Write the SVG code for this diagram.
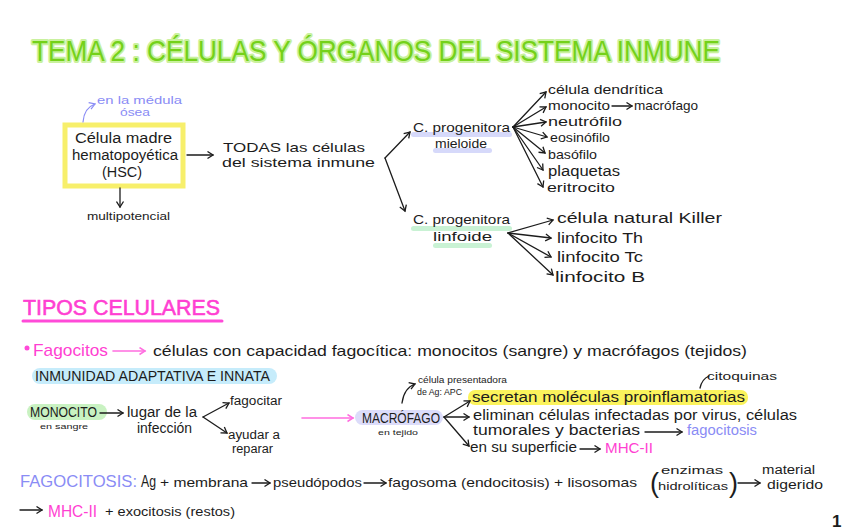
<svg xmlns="http://www.w3.org/2000/svg" width="848" height="530" viewBox="0 0 848 530">
<defs>
<style>
text{font-family:"Liberation Sans",Arial,sans-serif;fill:#1c1c1c}
.k{font-size:13px}
.m{font-size:14px}
.s{font-size:9px}
.pk{fill:#ff3fd2}
.bl{fill:#8a8cf5}
.ln{fill:none;stroke:#1c1c1c;stroke-width:1.3;stroke-linecap:round}
.lp{fill:none;stroke:#ff6ee0;stroke-width:1.6;stroke-linecap:round}
.lb{fill:none;stroke:#8a8cf5;stroke-width:1.2;stroke-linecap:round}
.hl{stroke:none}
</style>
<marker id="ah" markerWidth="9" markerHeight="9" refX="7" refY="4.5" orient="auto" markerUnits="userSpaceOnUse"><path d="M1.5,1 L7,4.5 L1.5,8" fill="none" stroke="#1c1c1c" stroke-width="1.3"/></marker>
<marker id="ahp" markerWidth="9" markerHeight="9" refX="7" refY="4.5" orient="auto" markerUnits="userSpaceOnUse"><path d="M1.5,1 L7,4.5 L1.5,8" fill="none" stroke="#ff6ee0" stroke-width="1.5"/></marker>
<marker id="ahb" markerWidth="9" markerHeight="9" refX="7" refY="4.5" orient="auto" markerUnits="userSpaceOnUse"><path d="M1.5,1 L7,4.5 L1.5,8" fill="none" stroke="#8a8cf5" stroke-width="1.2"/></marker>
</defs>
<rect width="848" height="530" fill="#ffffff"/>

<g id="title">
<text x="32" y="61" font-size="30" textLength="688" lengthAdjust="spacingAndGlyphs" style="fill:#74d11a;stroke:#c9f19e;stroke-width:4;paint-order:stroke;stroke-linejoin:round">TEMA 2 : CÉLULAS Y ÓRGANOS DEL SISTEMA INMUNE</text>
</g>

<g id="hsc">
<rect x="65" y="125" width="118" height="61" fill="none" stroke="#f7ef6b" stroke-width="5"/>
<text class="m" x="75" y="143" textLength="97" lengthAdjust="spacingAndGlyphs">Célula madre</text>
<text class="m" x="72" y="160" textLength="106" lengthAdjust="spacingAndGlyphs">hematopoyética</text>
<text class="m" x="102" y="177" textLength="40" lengthAdjust="spacingAndGlyphs">(HSC)</text>
</g>
<g id="medula">
<text class="bl" x="97" y="104" font-size="11" textLength="85" lengthAdjust="spacingAndGlyphs">en la médula</text>
<text class="bl" x="120" y="116" font-size="11" textLength="30" lengthAdjust="spacingAndGlyphs">ósea</text>
</g>
<g id="multipotencial">
<text x="87" y="220" font-size="10" textLength="83" lengthAdjust="spacingAndGlyphs">multipotencial</text>
</g>
<g id="todas">
<text class="k" x="223" y="152" textLength="142" lengthAdjust="spacingAndGlyphs">TODAS las células</text>
<text class="k" x="222" y="167" textLength="153" lengthAdjust="spacingAndGlyphs">del sistema inmune</text>
</g>

<g id="mieloide">
<rect class="hl" x="411" y="132" width="101" height="5" rx="2.5" fill="#d6d9fa"/>
<rect class="hl" x="433" y="148" width="59" height="5" rx="2.5" fill="#d6d9fa"/>
<text class="k" x="413" y="132" textLength="97" lengthAdjust="spacingAndGlyphs">C. progenitora</text>
<text class="k" x="435" y="148" textLength="52" lengthAdjust="spacingAndGlyphs">mieloide</text>
</g>
<g id="dendritica"><text class="k" x="548" y="94" textLength="115" lengthAdjust="spacingAndGlyphs">célula dendrítica</text></g>
<g id="monocito1"><text class="k" x="548" y="110" textLength="62" lengthAdjust="spacingAndGlyphs">monocito</text></g>
<g id="macrofago1"><text class="k" x="634" y="110" textLength="64" lengthAdjust="spacingAndGlyphs">macrófago</text></g>
<g id="neutrofilo"><text class="k" x="548" y="126" textLength="74" lengthAdjust="spacingAndGlyphs">neutrófilo</text></g>
<g id="eosinofilo"><text class="k" x="550" y="142" textLength="60" lengthAdjust="spacingAndGlyphs">eosinófilo</text></g>
<g id="basofilo"><text class="k" x="548" y="159" textLength="49" lengthAdjust="spacingAndGlyphs">basófilo</text></g>
<g id="plaquetas"><text class="m" x="548" y="176" textLength="72" lengthAdjust="spacingAndGlyphs">plaquetas</text></g>
<g id="eritrocito"><text class="k" x="547" y="192" textLength="68" lengthAdjust="spacingAndGlyphs">eritrocito</text></g>

<g id="linfoide">
<rect class="hl" x="411" y="226" width="101" height="5" rx="2.5" fill="#c9f2d4"/>
<rect class="hl" x="433" y="243" width="59" height="5" rx="2.5" fill="#c9f2d4"/>
<text class="k" x="413" y="224" textLength="97" lengthAdjust="spacingAndGlyphs">C. progenitora</text>
<text class="k" x="433" y="241" textLength="59" lengthAdjust="spacingAndGlyphs">linfoide</text>
</g>
<g id="nk"><text class="m" x="557" y="223" textLength="165" lengthAdjust="spacingAndGlyphs">célula natural Killer</text></g>
<g id="th"><text class="m" x="557" y="243" textLength="86" lengthAdjust="spacingAndGlyphs">linfocito Th</text></g>
<g id="tc"><text class="m" x="557" y="262" textLength="86" lengthAdjust="spacingAndGlyphs">linfocito Tc</text></g>
<g id="lb"><text class="m" x="555" y="282" textLength="90" lengthAdjust="spacingAndGlyphs">linfocito B</text></g>

<g id="tipos">
<text class="pk" x="23" y="315" font-size="22" textLength="197" lengthAdjust="spacingAndGlyphs" style="stroke:#ff3fd2;stroke-width:0.6">TIPOS CELULARES</text>
<line x1="23" y1="321" x2="222" y2="321" stroke="#ff4ad8" stroke-width="3" stroke-linecap="round"/>
</g>
<g id="fagocitos">
<circle cx="27" cy="348" r="2.5" fill="#ff4ad8"/>
<text class="pk" x="33" y="356" font-size="17" textLength="75" lengthAdjust="spacingAndGlyphs">Fagocitos</text>
</g>
<g id="def-fagocitos">
<text x="153" y="356" font-size="15" textLength="594" lengthAdjust="spacingAndGlyphs">células con capacidad fagocítica: monocitos (sangre) y macrófagos (tejidos)</text>
</g>
<g id="inmunidad">
<rect class="hl" x="32" y="368" width="245" height="16" rx="8" fill="#c6ecfb"/>
<text x="35" y="381" font-size="14" textLength="235" lengthAdjust="spacingAndGlyphs">INMUNIDAD ADAPTATIVA E INNATA</text>
</g>

<g id="monocito">
<rect class="hl" x="27" y="404" width="80" height="16" rx="8" fill="#c9f2c2"/>
<text x="30" y="417" font-size="14" textLength="67" lengthAdjust="spacingAndGlyphs">MONOCITO</text>
<text x="40" y="429" font-size="8" textLength="48" lengthAdjust="spacingAndGlyphs">en sangre</text>
</g>
<g id="lugar">
<text class="m" x="127" y="417" textLength="70" lengthAdjust="spacingAndGlyphs">lugar de la</text>
<text class="m" x="137" y="433" textLength="55" lengthAdjust="spacingAndGlyphs">infección</text>
</g>
<g id="fagocitar"><text x="230" y="405" font-size="12" textLength="52" lengthAdjust="spacingAndGlyphs">fagocitar</text></g>
<g id="ayudar">
<text x="228" y="439" font-size="12" textLength="52" lengthAdjust="spacingAndGlyphs">ayudar a</text>
<text x="232" y="453" font-size="12" textLength="41" lengthAdjust="spacingAndGlyphs">reparar</text>
</g>

<g id="macrofago">
<rect class="hl" x="355" y="410" width="88" height="15" rx="7.5" fill="#dcdcfa"/>
<text x="362" y="423" font-size="14" textLength="78" lengthAdjust="spacingAndGlyphs">MACRÓFAGO</text>
<text x="378" y="435" font-size="8" textLength="40" lengthAdjust="spacingAndGlyphs">en tejido</text>
</g>
<g id="apc">
<text class="s" x="418" y="383" textLength="89" lengthAdjust="spacingAndGlyphs">célula presentadora</text>
<text class="s" x="417" y="395" textLength="45" lengthAdjust="spacingAndGlyphs">de Ag: APC</text>
</g>
<g id="secretan">
<rect class="hl" x="468" y="390" width="280" height="15" rx="7" fill="#fbf35c"/>
<text class="m" x="472" y="402" textLength="273" lengthAdjust="spacingAndGlyphs">secretan moléculas proinflamatorias</text>
</g>
<g id="citoquinas"><text x="707" y="380" font-size="11" textLength="70" lengthAdjust="spacingAndGlyphs">citoquinas</text></g>
<g id="eliminan">
<text class="m" x="473" y="420" textLength="324" lengthAdjust="spacingAndGlyphs">eliminan células infectadas por virus, células</text>
<text class="m" x="473" y="435" textLength="167" lengthAdjust="spacingAndGlyphs">tumorales y bacterias</text>
</g>
<g id="fagocitosis1"><text class="bl" x="687" y="435" font-size="14" textLength="70" lengthAdjust="spacingAndGlyphs">fagocitosis</text></g>
<g id="superficie"><text class="m" x="470" y="452" textLength="107" lengthAdjust="spacingAndGlyphs">en su superficie</text></g>
<g id="mhc1"><text class="pk" x="605" y="453" font-size="15" textLength="48" lengthAdjust="spacingAndGlyphs">MHC-II</text></g>

<g id="fagocitosis-proceso">
<text class="bl" x="20" y="487" font-size="17" textLength="117" lengthAdjust="spacingAndGlyphs">FAGOCITOSIS:</text>
<text x="141" y="487" font-size="16" textLength="15" lengthAdjust="spacingAndGlyphs">Ag</text>
<text class="k" x="160" y="487" textLength="88" lengthAdjust="spacingAndGlyphs">+ membrana</text>
<text class="k" x="273" y="487" textLength="89" lengthAdjust="spacingAndGlyphs">pseudópodos</text>
<text class="k" x="388" y="487" textLength="249" lengthAdjust="spacingAndGlyphs">fagosoma (endocitosis) + lisosomas</text>
<text x="650" y="492" font-size="28" textLength="9" lengthAdjust="spacingAndGlyphs">(</text>
<text x="661" y="474" font-size="11" textLength="62" lengthAdjust="spacingAndGlyphs">enzimas</text>
<text x="658" y="490" font-size="11" textLength="70" lengthAdjust="spacingAndGlyphs">hidrolíticas</text>
<text x="729" y="492" font-size="28" textLength="9" lengthAdjust="spacingAndGlyphs">)</text>
<text x="762" y="474" font-size="12" textLength="53" lengthAdjust="spacingAndGlyphs">material</text>
<text x="767" y="489" font-size="12" textLength="56" lengthAdjust="spacingAndGlyphs">digerido</text>
<text class="pk" x="48" y="517" font-size="16" textLength="49" lengthAdjust="spacingAndGlyphs">MHC-II</text>
<text class="k" x="105" y="516" textLength="130" lengthAdjust="spacingAndGlyphs">+ exocitosis (restos)</text>
</g>
<g id="page"><text x="832" y="527" font-size="17" font-weight="bold">1</text></g>

<g id="connectors">
<path class="lb" d="M83,122 Q84,108 95,104" marker-end="url(#ahb)"/>
<path class="ln" d="M120,188 L120,207" marker-end="url(#ah)"/>
<path class="ln" d="M187,155 L213,155" marker-end="url(#ah)"/>
<path class="ln" d="M385,158 L410,132" marker-end="url(#ah)"/>
<path class="ln" d="M385,158 L405,211" marker-end="url(#ah)"/>
<path class="ln" d="M513,127 L546,92" marker-end="url(#ah)"/>
<path class="ln" d="M513,127 L546,107" marker-end="url(#ah)"/>
<path class="ln" d="M513,127 L546,122" marker-end="url(#ah)"/>
<path class="ln" d="M513,127 L547,137" marker-end="url(#ah)"/>
<path class="ln" d="M513,127 L545,153" marker-end="url(#ah)"/>
<path class="ln" d="M513,127 L543,170" marker-end="url(#ah)"/>
<path class="ln" d="M513,127 L543,187" marker-end="url(#ah)"/>
<path class="ln" d="M612,106 L632,106" marker-end="url(#ah)"/>
<path class="ln" d="M508,233 L553,220" marker-end="url(#ah)"/>
<path class="ln" d="M508,233 L551,238" marker-end="url(#ah)"/>
<path class="ln" d="M508,233 L551,257" marker-end="url(#ah)"/>
<path class="ln" d="M508,233 L553,275" marker-end="url(#ah)"/>
<path class="lp" d="M113,351 L145,351" marker-end="url(#ahp)"/>
<path class="ln" d="M100,413 L123,413" marker-end="url(#ah)"/>
<path class="ln" d="M203,417 L229,403" marker-end="url(#ah)"/>
<path class="ln" d="M203,417 L227,433" marker-end="url(#ah)"/>
<path class="lp" d="M302,418 L353,418" marker-end="url(#ahp)"/>
<path class="ln" d="M402,403 Q404,388 415,384" marker-end="url(#ah)"/>
<path class="ln" d="M444,417 L470,401" marker-end="url(#ah)"/>
<path class="ln" d="M444,417 L469,417" marker-end="url(#ah)"/>
<path class="ln" d="M444,417 L469,446" marker-end="url(#ah)"/>
<path class="ln" d="M700,388 Q702,379 709,376"/>
<path class="ln" d="M645,432 L682,432" marker-end="url(#ah)"/>
<path class="ln" d="M580,449 L600,449" marker-end="url(#ah)"/>
<path class="ln" d="M252,483 L270,483" marker-end="url(#ah)"/>
<path class="ln" d="M364,483 L386,483" marker-end="url(#ah)"/>
<path class="ln" d="M738,483 L760,483" marker-end="url(#ah)"/>
<path class="ln" d="M20,510 L42,510" marker-end="url(#ah)"/>
</g>
</svg>
